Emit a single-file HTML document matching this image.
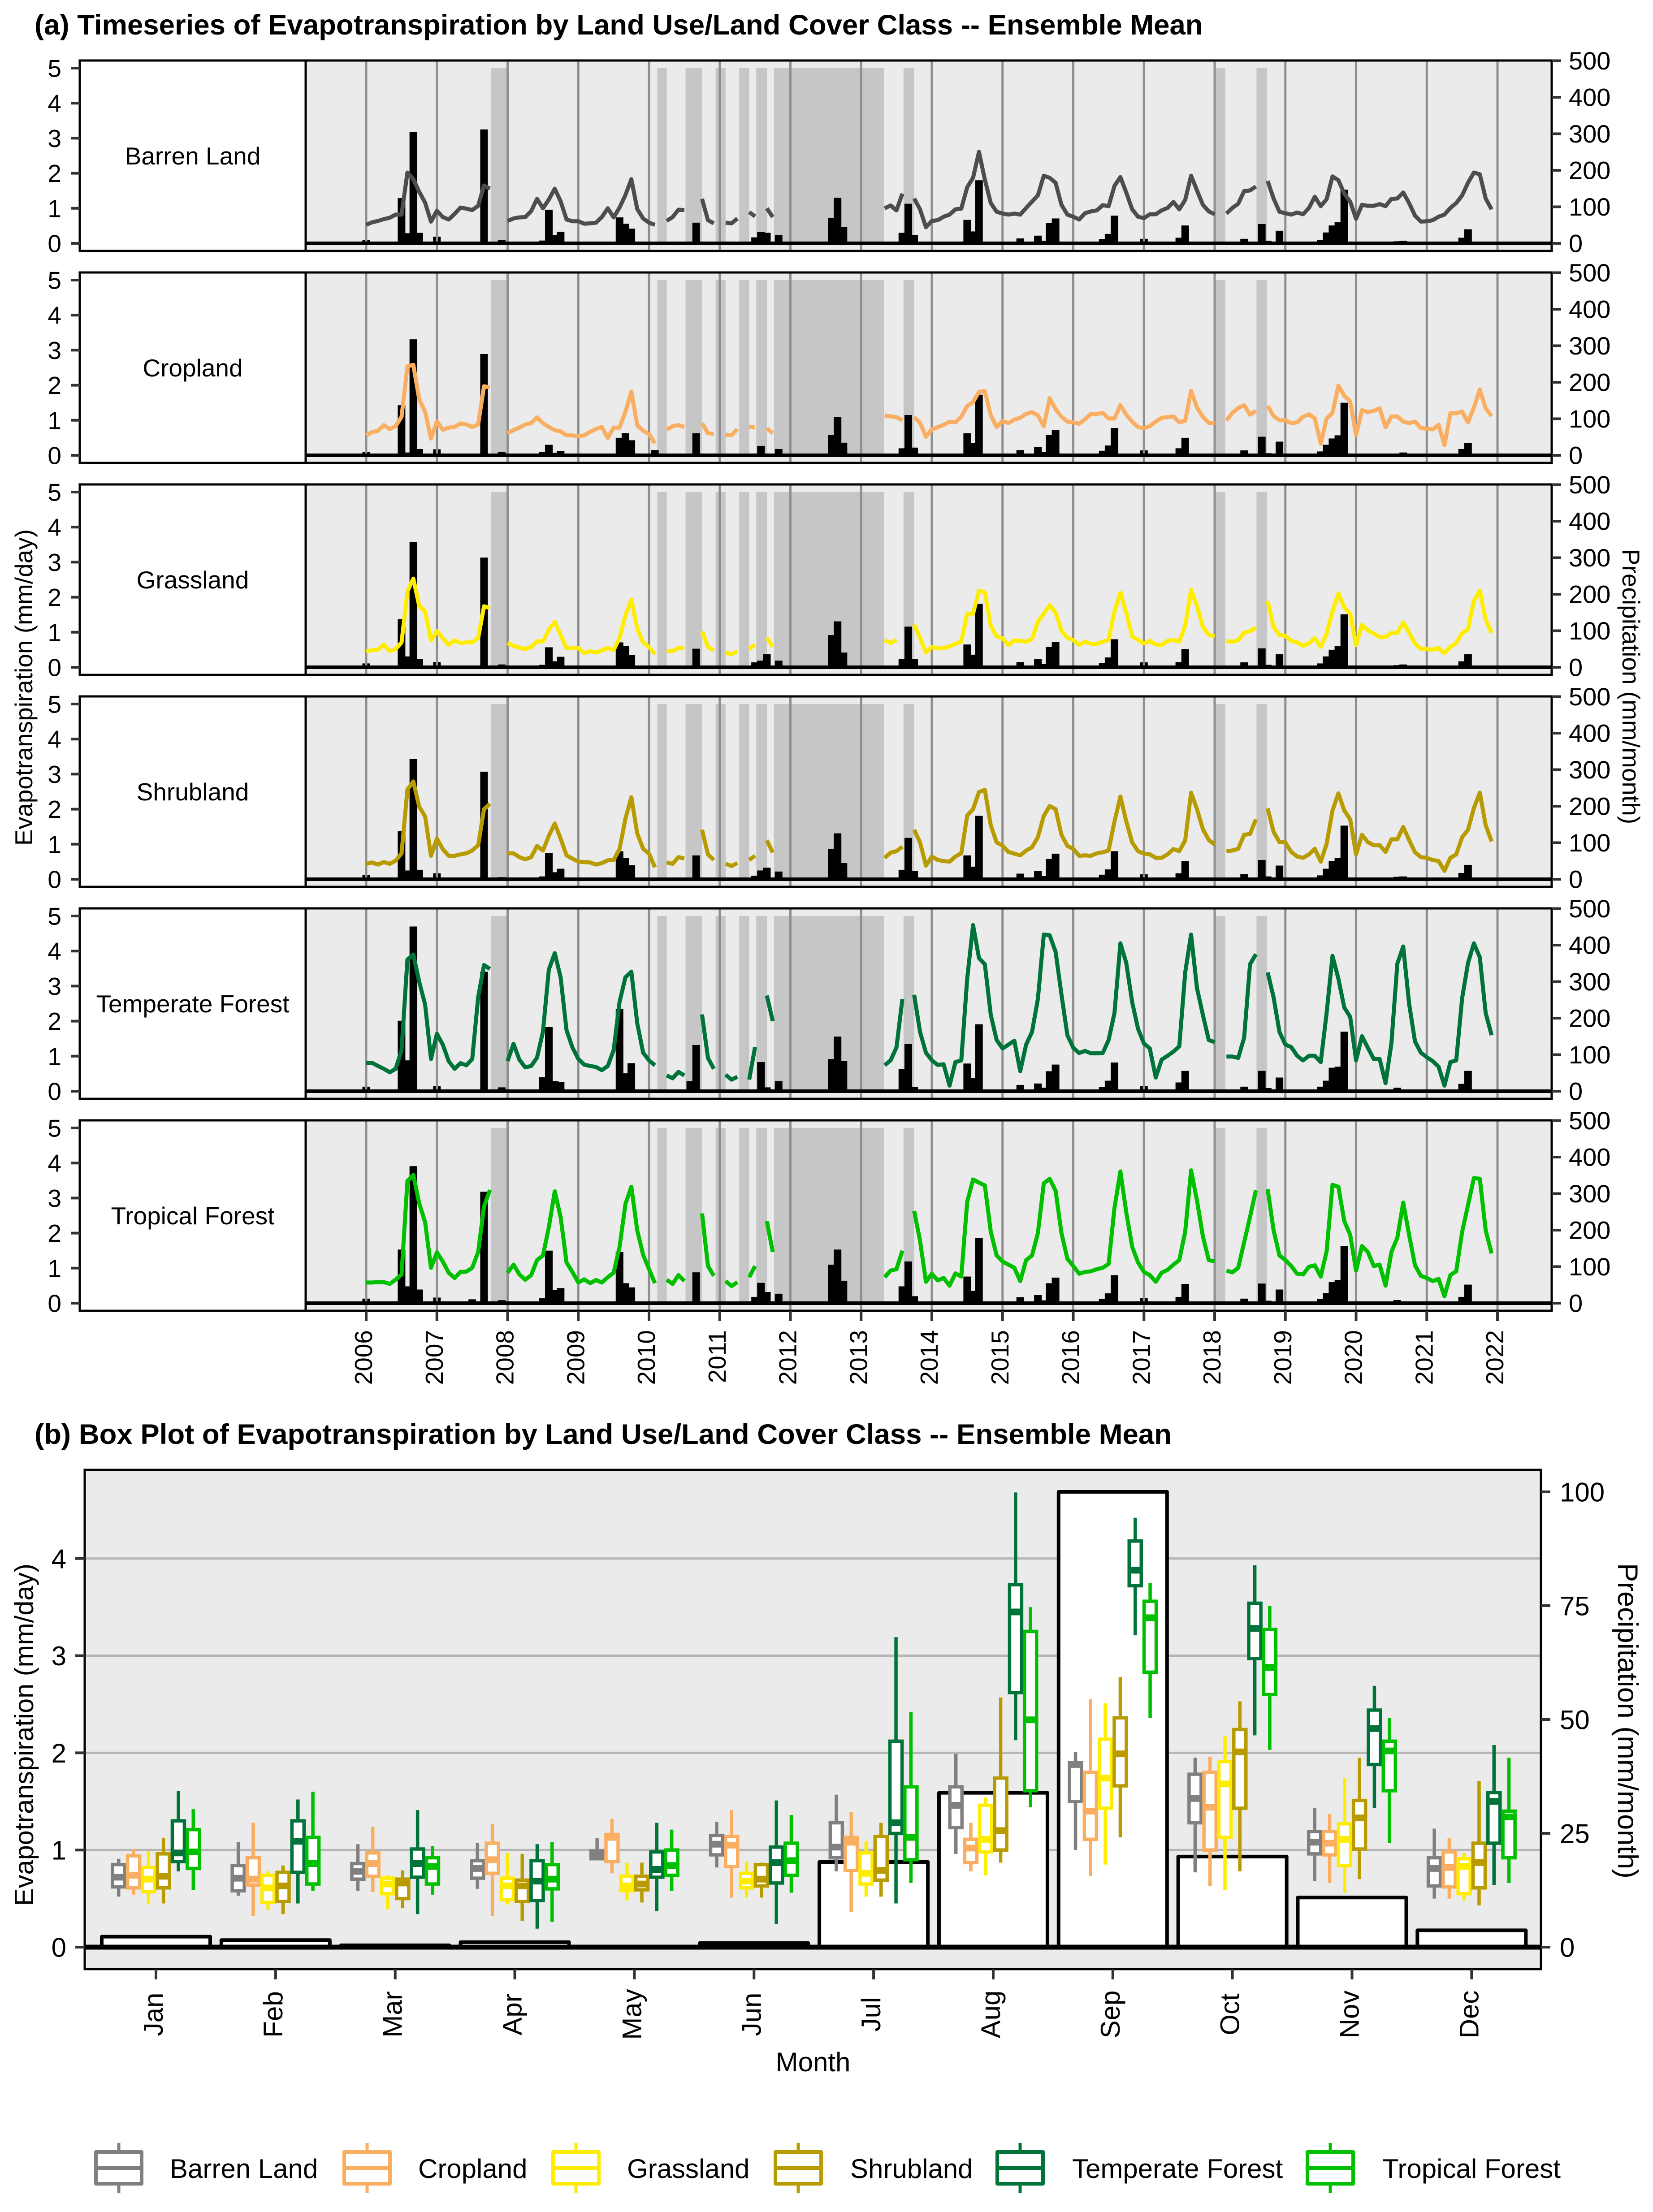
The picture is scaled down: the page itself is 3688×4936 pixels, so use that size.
<!DOCTYPE html>
<html lang="en">
<head>
<meta charset="utf-8">
<title>Evapotranspiration by Land Use/Land Cover Class</title>
<style>
html,body{margin:0;padding:0;background:#fff;}
svg{display:block;}
text{font-family:"Liberation Sans",Arial,sans-serif;fill:#000;}
</style>
</head>
<body>
<svg id="chart" xmlns="http://www.w3.org/2000/svg" width="3688" height="4936" viewBox="0 0 3688 4936">
<rect x="0" y="0" width="3688" height="4936" fill="#fff"/>
<text x="77" y="77" font-size="63.5" font-weight="bold">(a) Timeseries of Evapotranspiration by Land Use/Land Cover Class -- Ensemble Mean</text>
<text x="77" y="3222" font-size="63.5" font-weight="bold">(b) Box Plot of Evapotranspiration by Land Use/Land Cover Class -- Ensemble Mean</text>
<text transform="translate(72,1534) rotate(-90)" text-anchor="middle" font-size="55">Evapotranspiration (mm/day)</text>
<text transform="translate(3620,1532) rotate(90)" text-anchor="middle" font-size="55">Precipitation (mm/month)</text>
<text transform="translate(74,3871) rotate(-90)" text-anchor="middle" font-size="59.5">Evapotranspiration (mm/day)</text>
<text transform="translate(3610,3840) rotate(90)" text-anchor="middle" font-size="63">Precipitation (mm/month)</text>
<text x="1814" y="4622" text-anchor="middle" font-size="60">Month</text>
</svg>
<script>
const n = null;

const landCovers = ["Barren Land","Cropland","Grassland","Shrubland","Temperate Forest","Tropical Forest"];
const yearLabels = ["2006","2007","2008","2009","2010","2011","2012","2013","2014","2015","2016","2017","2018","2019","2020","2021","2022"];
const etTickLabels = [0,1,2,3,4,5];
const precipTickLabels = [0,100,200,300,400,500];
const monthLabels = ["Jan","Feb","Mar","Apr","May","Jun","Jul","Aug","Sep","Oct","Nov","Dec"];
const boxEtTicks = [0,1,2,3,4];
const boxPrecipTicks = [0,25,50,75,100];

/* Missing-data shading, in months since Jan 2006 */
const missingStart = [21.2,49.4,54.2,59.3,63.3,66.2,69.2,91.2,144.1,151.1];
const missingEnd   = [23.8,51.0,57.0,61.0,65.0,68.0,87.9,93.0,145.8,152.9];

/* Monthly ET (mm/day), Jan 2006 to Dec 2021, one row per year */
const etBarren = [
.53,.6,.64,.69,.73,.82,.82,2.02,1.83,1.47,1.16,.62,
.93,.75,.68,.84,1.02,.99,.95,1.07,1.65,1.56,n,n,
.64,.71,.74,.75,.92,1.27,1.0,1.25,1.56,1.2,.68,.63,
.63,.56,.57,.59,.75,1.0,.74,1.02,1.38,1.83,.98,.71,
.59,.53,n,.64,.75,.96,.95,n,n,1.27,.66,.57,
n,.59,.57,.71,n,.89,.77,n,1.0,.75,n,n,
n,n,n,n,n,n,n,n,n,n,n,n,
n,n,n,n,1.0,1.08,.94,1.42,n,1.28,.97,.46,
.64,.66,.76,.82,.97,.99,1.6,1.87,2.61,1.82,1.15,.9,
.85,.82,.85,.82,1.01,1.19,1.37,1.93,1.87,1.73,1.1,.82,
.76,.68,.86,.91,.94,1.09,1.06,1.64,1.89,1.45,.97,.76,
.72,.83,.83,.94,1.01,1.18,.97,1.24,1.93,1.51,1.1,.91,
.83,n,.85,1.01,1.13,1.49,1.51,1.62,n,1.78,1.28,.9,
.86,.82,.88,.83,1.01,1.33,1.06,1.26,1.91,1.8,1.42,1.19,
.7,1.1,1.07,1.07,1.12,1.06,1.27,1.28,1.45,1.15,.79,.62,
.63,.66,.76,.82,1.01,1.15,1.37,1.73,2.02,1.97,1.28,.97];
const etCropland = [
.57,.66,.7,.86,.75,.83,1.1,2.54,2.58,1.6,1.24,.48,
.97,.73,.79,.81,.91,.88,.81,.88,1.97,1.94,n,n,
.63,.72,.79,.88,.92,1.08,.92,.81,.72,.68,.57,.57,
.54,.57,.67,.75,.81,.49,.79,.79,1.24,1.82,.86,.7,
.61,.34,n,.73,.83,.86,.81,n,n,.92,.63,.61,
n,.59,.57,.75,n,.82,.79,n,.77,.63,n,n,
n,n,n,n,n,n,n,n,n,n,n,n,
n,n,n,n,1.14,1.11,1.09,1.0,n,1.09,.93,.53,
.74,.8,.87,.96,.94,1.1,1.41,1.52,1.81,1.83,1.14,.81,
.98,.92,1.02,1.07,1.18,1.23,1.14,.83,1.63,1.32,1.1,.96,
.94,.9,1.03,1.18,1.18,1.21,1.05,1.05,1.43,1.16,.96,.8,
.78,.83,.96,1.07,1.09,1.11,.94,.99,1.84,1.36,1.1,.92,
.92,n,.99,1.21,1.35,1.43,1.16,1.27,n,1.41,1.12,1.0,
1.0,.92,.94,1.1,1.17,1.05,.33,1.05,1.21,1.99,1.7,1.54,
.58,1.29,1.23,1.27,1.34,.8,1.11,1.11,.96,.92,.96,.78,
.76,.74,.87,.29,1.2,1.2,1.25,.94,1.36,1.88,1.34,1.12];
const etGrassland = [
.45,.49,.5,.65,.46,.52,.71,2.17,2.53,1.75,1.59,.77,
1.03,.83,.64,.77,.69,.71,.71,.83,1.74,1.69,n,n,
.69,.61,.56,.52,.58,.74,.74,1.07,1.3,.92,.55,.55,
.55,.4,.46,.42,.48,.55,.49,.84,1.49,1.93,1.11,.71,
.58,.37,n,.46,.46,.55,.55,n,n,1.03,.58,.48,
n,.42,.37,.46,n,.52,.65,n,.84,.58,n,n,
n,n,n,n,n,n,n,n,n,n,n,n,
n,n,n,n,.77,.69,.79,n,n,1.22,.84,.42,
.58,.54,.54,.6,.67,.73,1.53,1.53,2.19,2.13,1.18,.88,
.83,.63,.77,.75,.73,.8,1.3,1.53,1.77,1.56,1.05,.84,
.78,.64,.73,.67,.67,.73,.78,1.6,2.13,1.56,.88,.78,
.68,.75,.65,.64,.75,.78,.73,1.18,2.21,1.75,1.15,.93,
.88,n,.75,.73,.77,.99,1.03,1.13,n,1.89,1.15,.92,
.9,.75,.71,.61,.69,.83,.58,.96,1.6,2.11,1.71,1.53,
.63,1.21,1.05,.96,.86,.86,.98,.98,1.28,.99,.68,.52,
.52,.5,.55,.4,.58,.69,.98,1.08,1.9,2.19,1.36,.98];
const etShrubland = [
.44,.48,.42,.49,.44,.53,.74,2.56,2.79,2.07,1.79,.67,
1.16,.86,.67,.67,.71,.74,.82,.97,2.0,2.15,n,n,
.74,.74,.63,.57,.63,.95,.82,1.24,1.59,1.16,.68,.59,
.5,.49,.48,.42,.46,.54,.55,.86,1.73,2.34,1.31,.87,
.73,.34,n,.48,.44,.63,.59,n,n,1.41,.71,.55,
n,.44,.38,.46,n,.55,.67,n,1.11,.76,n,n,
n,n,n,n,n,n,n,n,n,n,n,n,
n,n,n,n,.61,.76,.8,.93,n,1.41,1.05,.39,
.65,.55,.52,.5,.65,.74,1.82,2.0,2.49,2.55,1.54,1.05,
.96,.78,.73,.68,.82,.91,1.2,1.81,2.09,2.0,1.27,.95,
.87,.67,.68,.67,.74,.77,.82,1.65,2.36,1.65,1.05,.8,
.73,.71,.61,.61,.71,.86,.8,1.11,2.47,2.0,1.43,1.12,
.99,n,.8,.82,.87,1.27,1.29,1.71,n,2.02,1.35,1.06,
1.05,.78,.65,.61,.71,.87,.5,1.01,1.96,2.45,1.96,1.71,
.71,1.27,1.06,.97,.97,.78,1.14,1.14,1.49,1.12,.77,.63,
.61,.55,.52,.24,.61,.71,1.2,1.41,2.03,2.47,1.54,1.08];
const etTemperateForest = [
.8,.81,.72,.64,.54,.64,1.17,3.76,3.9,3.12,2.47,.92,
1.64,1.33,.86,.64,.8,.74,.92,2.68,3.6,3.49,n,n,
.86,1.35,.9,.68,.72,.96,1.7,3.47,3.94,3.25,1.74,1.25,
.92,.76,.72,.69,.6,.72,1.17,2.55,3.25,3.41,1.94,1.1,
.88,.74,n,.45,.37,.55,.45,n,n,2.19,.95,.64,
n,.47,.33,.41,n,.33,1.26,n,2.73,2.0,n,n,
n,n,n,n,n,n,n,n,n,n,n,n,
n,n,n,n,.74,.88,1.25,2.63,n,2.75,1.69,1.1,
.88,.75,.77,.16,.83,.88,3.21,4.74,3.8,3.62,2.18,1.46,
1.22,1.33,1.44,.57,1.33,1.69,2.63,4.47,4.45,3.98,2.76,1.6,
1.24,1.09,1.15,1.08,1.08,1.09,1.46,2.23,4.22,3.66,2.54,1.78,
1.36,1.22,.39,.9,1.01,1.13,1.28,3.39,4.47,2.94,2.18,1.46,
1.4,n,.99,.99,.95,1.53,3.62,3.91,n,3.39,2.68,1.69,
1.33,1.26,1.01,.88,1.01,1.01,.83,2.23,3.86,3.21,2.39,2.12,
.88,1.57,1.24,.92,.92,.23,1.37,3.64,4.13,2.5,1.42,1.1,
.97,.86,.7,.16,.83,.88,2.66,3.66,4.22,3.82,2.23,1.6];
const etTropicalForest = [
.59,.59,.6,.6,.55,.67,.82,3.49,3.66,2.85,2.31,1.01,
1.45,1.19,.87,.72,.89,.9,1.01,1.46,2.76,3.23,n,n,
.87,1.1,.82,.67,.8,1.23,1.36,2.17,3.19,2.46,1.16,.89,
.59,.68,.57,.66,.59,.74,.87,1.61,2.83,3.32,2.08,1.38,
.97,.57,n,.67,.55,.8,.63,n,n,2.56,1.06,.78,
n,.63,.49,.6,n,.74,1.06,n,2.34,1.46,n,n,
n,n,n,n,n,n,n,n,n,n,n,n,
n,n,n,n,.74,.93,.97,1.5,n,2.63,1.78,.61,
.84,.65,.72,.5,.85,.76,2.89,3.53,3.44,3.36,2.04,1.36,
1.19,1.1,1.01,.63,1.23,1.36,2.0,3.42,3.55,3.21,2.0,1.27,
1.06,.84,.89,.91,.97,1.01,1.12,2.72,3.76,2.59,1.61,1.16,
.89,.8,.61,.87,.95,1.1,1.23,2.04,3.79,2.93,1.91,1.23,
1.19,n,.93,.88,1.01,1.74,2.46,3.22,n,3.25,2.08,1.36,
1.23,1.06,.84,.82,1.04,1.08,.76,1.48,3.38,3.32,2.34,1.95,
.93,1.63,1.46,1.06,1.1,.5,1.46,1.87,2.87,1.95,1.08,.78,
.72,.63,.69,.2,.8,.91,2.04,2.8,3.57,3.55,2.08,1.42];

/* Precipitation bars: months since Jan 2006 with rain, and bar height per class on the ET axis */
const rainMonths = [0,6,7,8,9,12,18,20,23,30,31,32,33,43,44,45,49,55,56,66,67,68,70,79,80,81,91,92,93,102,103,104,111,114,115,116,117,125,126,127,132,138,139,149,152,153,155,162,163,164,165,166,175,176,186,187];
const rainBarren = [.1,1.29,.29,3.18,.3,.19,0,3.25,.1,.08,.96,.24,.33,.74,.56,.42,0,0,.59,.17,.32,.3,.23,.73,1.3,.46,.3,1.13,.24,.67,.34,1.8,.14,.22,.07,.58,.71,.12,.27,.79,.13,.16,.51,.13,.55,.07,.36,.1,.31,.51,.6,1.53,.06,.07,.16,.4];
const rainCropland = [.1,1.43,.08,3.31,.18,.17,0,2.89,.09,.09,.3,.07,.12,.5,.63,.43,.15,0,.63,0,.27,0,.18,.58,1.09,.36,.2,1.15,.22,.63,.35,1.73,.15,.24,.09,.58,.72,.13,.28,.78,.14,.2,.5,.14,.53,.06,.39,.11,.3,.48,.57,1.5,.05,.08,.18,.35];
const rainGrassland = [.11,1.37,.31,3.58,.24,.15,0,3.13,.08,.07,.57,.17,.3,.71,.61,.35,0,0,.53,.14,.19,.37,.19,.92,1.31,.42,.24,1.16,.23,.65,.36,1.81,.15,.23,.09,.58,.72,.12,.28,.8,.14,.15,.52,.14,.54,.07,.37,.11,.31,.5,.6,1.51,.06,.08,.17,.37];
const rainShrubland = [.12,1.37,.25,3.43,.27,.17,0,3.07,.06,.08,.75,.2,.3,.8,.61,.4,0,0,.68,.1,.25,.33,.22,.87,1.31,.46,.27,1.18,.24,.68,.36,1.81,.16,.23,.09,.58,.73,.13,.28,.8,.14,.17,.52,.15,.55,.08,.39,.11,.3,.52,.61,1.53,.07,.08,.18,.41];
const rainTemperateForest = [.13,2.01,.88,4.7,0,.14,0,3.41,.11,.4,1.83,.29,.26,2.35,.51,.8,0,.29,1.32,0,.83,.11,.29,.92,1.56,.86,.63,1.35,.12,.79,.37,1.91,.18,.22,.1,.57,.76,.12,.3,.82,.14,.25,.58,.13,.58,.09,.39,.13,.3,.67,.7,1.7,.1,.05,.21,.58];
const rainTropicalForest = [.13,1.53,.48,3.91,.39,.16,.11,3.18,.085,.14,1.5,.38,.43,1.46,.57,.45,0,0,.88,.18,.58,.32,.27,1.1,1.53,.64,.48,1.19,.2,.76,.35,1.86,.17,.23,.08,.57,.73,.12,.28,.8,.14,.18,.55,.13,.56,.07,.39,.12,.29,.6,.66,1.63,.09,.05,.18,.53];

/* Mean monthly precipitation (mm/month) */
const meanPrecip = [2.3,1.55,.4,1.1,.1,.9,18.7,33.9,100,19.9,10.9,3.7];

/* Monthly box statistics: [low whisker, q1, median, q3, high whisker] */
const boxBarren = [[.52,.62,.72,.85,.91],[.53,.58,.71,.84,1.08],[.58,.70,.78,.86,1.06],[.60,.71,.81,.89,1.07],[.90,.91,.95,.99,1.12],[.82,.95,1.06,1.15,1.29],[.78,.92,1.03,1.28,1.57],[.96,1.23,1.46,1.65,1.99],[1.0,1.5,1.88,1.9,2.01],[.77,1.28,1.53,1.78,1.95],[.68,.96,1.08,1.19,1.43],[.50,.63,.81,.92,1.22]];
const boxCropland = [[.54,.61,.74,.94,1.01],[.32,.64,.70,.92,1.28],[.57,.73,.86,.97,1.24],[.32,.76,.90,1.07,1.27],[.76,.88,1.13,1.16,1.32],[.51,.83,1.05,1.14,1.41],[.36,.79,1.08,1.13,1.39],[.78,.87,1.02,1.11,1.28],[.73,1.11,1.4,1.8,2.55],[.63,1.0,1.44,1.8,1.96],[.66,.95,1.07,1.19,1.37],[.50,.62,.82,.98,1.12]];
const boxGrassland = [[.44,.57,.70,.82,.99],[.38,.46,.61,.74,.78],[.39,.55,.65,.71,.74],[.44,.49,.63,.71,.97],[.48,.58,.63,.73,.87],[.51,.61,.68,.76,.88],[.52,.65,.76,.97,1.09],[.74,.98,1.11,1.46,1.54],[.85,1.43,1.74,2.14,2.51],[.59,1.13,1.68,1.91,2.17],[.56,.84,1.11,1.27,1.74],[.48,.55,.83,.91,.97]];
const boxShrubland = [[.45,.61,.73,.96,1.12],[.34,.47,.63,.77,.84],[.40,.50,.66,.70,.79],[.27,.47,.63,.69,.96],[.46,.59,.65,.73,.87],[.51,.63,.70,.85,.87],[.52,.69,.79,1.14,1.28],[.87,1.0,1.2,1.74,2.57],[1.13,1.66,1.99,2.36,2.78],[.78,1.43,2.01,2.24,2.53],[.70,1.01,1.33,1.51,1.95],[.43,.61,.87,1.07,1.71]];
const boxTemperateForest = [[.78,.88,.97,1.30,1.61],[.45,.77,1.09,1.30,1.52],[.34,.72,.86,1.01,1.41],[.19,.48,.68,.89,1.06],[.37,.72,.80,.98,1.28],[.24,.66,.87,1.03,1.51],[.45,1.17,1.28,2.12,3.19],[2.13,2.62,3.45,3.73,4.68],[3.21,3.72,3.88,4.18,4.42],[2.18,2.97,3.28,3.54,3.93],[1.43,1.88,2.25,2.44,2.69],[.64,1.07,1.5,1.59,2.08]];
const boxTropicalForest = [[.59,.81,.98,1.21,1.42],[.58,.65,.86,1.13,1.60],[.54,.65,.83,.92,1.04],[.26,.60,.70,.85,1.08],[.58,.74,.84,1.0,1.21],[.56,.74,.89,1.07,1.36],[.66,.90,1.13,1.65,2.42],[1.44,1.61,2.34,3.25,3.5],[2.36,2.83,3.39,3.56,3.75],[2.03,2.6,2.88,3.27,3.51],[1.07,1.61,2.02,2.12,2.36],[.66,.92,1.34,1.4,1.95]];

const SVGNS = "http://www.w3.org/2000/svg";
const svg = document.getElementById("chart");
function mk(tag, attrs, parent) {
  const e = document.createElementNS(SVGNS, tag);
  for (const k in attrs) e.setAttribute(k, attrs[k]);
  (parent || svg).appendChild(e);
  return e;
}

const etSeries = [etBarren, etCropland, etGrassland, etShrubland, etTemperateForest, etTropicalForest];
const rainSeries = [rainBarren, rainCropland, rainGrassland, rainShrubland, rainTemperateForest, rainTropicalForest];
const boxSeries = [boxBarren, boxCropland, boxGrassland, boxShrubland, boxTemperateForest, boxTropicalForest];
const lineColors = ["#4D4D4D","#FAAE61","#FFED00","#B89B00","#00733A","#00C000"];
const boxColors = ["#808080","#FAAE61","#FFED00","#B89B00","#00733A","#00C000"];

/* ---------- Panel (a) ---------- */
const panelTops = [135,608,1081,1554,2027,2500];
const PANEL_H = 425, STRIP_L = 178, PLOT_L = 682, PLOT_R = 3462;
const xMonth = m => 817 + 13.146 * m;
const xYear = i => xMonth(i * 12);

panelTops.forEach((top, p) => {
  const zero = top + 408;
  const yEt = v => zero - 78.2 * v;
  const yPrecip = v => zero - 0.815 * v;
  const slug = landCovers[p].toLowerCase().replace(/ /g, "-");

  const strip = mk("rect", {x: STRIP_L, y: top, width: PLOT_L - STRIP_L, height: PANEL_H, fill: "#fff"});
  
  

  const stripLabel = mk("text", {x: (STRIP_L + PLOT_L) / 2, y: top + 232, "text-anchor": "middle", "font-size": 55});
  
  
  stripLabel.textContent = landCovers[p];

  const bg = mk("rect", {x: PLOT_L, y: top, width: PLOT_R - PLOT_L, height: PANEL_H, fill: "#EBEBEB"});
  
  

  missingStart.forEach((s, i) => {
    const r = mk("rect", {x: xMonth(s), y: yEt(5), width: xMonth(missingEnd[i]) - xMonth(s), height: yEt(0) - yEt(5), fill: "#000", "fill-opacity": 0.157});
    
    
  });

  rainMonths.forEach((m, i) => {
    const v = rainSeries[p][i];
    if (!v) return;
    const b = mk("rect", {x: xMonth(m) - 8.5, y: yEt(v), width: 17, height: yEt(0) - yEt(v), fill: "#000"});
    
    
  });

  yearLabels.forEach((y, i) => {
    const g = mk("line", {x1: xYear(i), x2: xYear(i), y1: top, y2: top + PANEL_H, stroke: "#8f8f8f", "stroke-width": 5});
    
    
  });

  const zl = mk("line", {x1: PLOT_L, x2: PLOT_R, y1: zero, y2: zero, stroke: "#000", "stroke-width": 8});
  
  

  let d = "", pen = false;
  etSeries[p].forEach((v, m) => {
    if (v === null) { pen = false; return; }
    d += (pen ? "L" : "M") + xMonth(m).toFixed(1) + " " + yEt(v).toFixed(1);
    pen = true;
  });
  const ln = mk("path", {d: d, fill: "none", stroke: lineColors[p], "stroke-width": 9, "stroke-linejoin": "round"});
  
  

  const frame = mk("rect", {x: PLOT_L, y: top, width: PLOT_R - PLOT_L, height: PANEL_H, fill: "none", stroke: "#000", "stroke-width": 5});
  
  
  const sf = mk("rect", {x: STRIP_L, y: top, width: PLOT_L - STRIP_L, height: PANEL_H, fill: "none", stroke: "#000", "stroke-width": 5});
  
  

  etTickLabels.forEach(v => {
    const t = mk("line", {x1: 158, x2: STRIP_L, y1: yEt(v), y2: yEt(v), stroke: "#333", "stroke-width": 6});
    
    
    const l = mk("text", {x: 137, y: yEt(v) + 19.5, "text-anchor": "end", "font-size": 55});
    
    
    l.textContent = v;
  });
  precipTickLabels.forEach(v => {
    const t = mk("line", {x1: PLOT_R, x2: PLOT_R + 21, y1: yPrecip(v), y2: yPrecip(v), stroke: "#333", "stroke-width": 6});
    
    
    const l = mk("text", {x: 3500, y: yPrecip(v) + 19.5, "font-size": 56});
    
    
    l.textContent = v;
  });
});

yearLabels.forEach((y, i) => {
  const t = mk("line", {x1: xYear(i), x2: xYear(i), y1: 2925, y2: 2948, stroke: "#333", "stroke-width": 6});
  
  
  const l = mk("text", {transform: "translate(" + (xYear(i) + 13) + ",2968) rotate(-90)", "text-anchor": "end", "font-size": 55});
  
  
  l.textContent = y;
});

/* ---------- Panel (b) ---------- */
const B_L = 189, B_R = 3438, B_T = 3280, B_B = 4394, B_ZERO = 4345;
const yBoxEt = v => B_ZERO - 216.8 * v;
const yBoxPrecip = v => B_ZERO - 10.16 * v;
const xGroup = m => 348 + 266.85 * m;

const bbg = mk("rect", {x: B_L, y: B_T, width: B_R - B_L, height: B_B - B_T, fill: "#EBEBEB"});



boxEtTicks.slice(1).forEach(v => {
  const g = mk("line", {x1: B_L, x2: B_R, y1: yBoxEt(v), y2: yBoxEt(v), stroke: "#B5B5B5", "stroke-width": 5});
  
  
});

meanPrecip.forEach((v, m) => {
  const b = mk("rect", {x: xGroup(m) - 121, y: yBoxPrecip(v), width: 242, height: B_ZERO - yBoxPrecip(v), fill: "#fff", stroke: "#000", "stroke-width": 8, "stroke-linejoin": "round"});
  
  
});

const bz = mk("line", {x1: B_L, x2: B_R, y1: B_ZERO, y2: B_ZERO, stroke: "#000", "stroke-width": 11});



boxSeries.forEach((series, c) => {
  const slug = landCovers[c].toLowerCase().replace(/ /g, "-");
  series.forEach((st, m) => {
    const cx = xGroup(m) + (c - 2.5) * 33.3;
    const w = mk("line", {x1: cx, x2: cx, y1: yBoxEt(st[0]), y2: yBoxEt(st[4]), stroke: boxColors[c], "stroke-width": 7.5});
    
    
    const r = mk("rect", {x: cx - 13.5, y: yBoxEt(st[3]), width: 27, height: yBoxEt(st[1]) - yBoxEt(st[3]), fill: "#fff", stroke: boxColors[c], "stroke-width": 7.5});
    
    
    const md = mk("line", {x1: cx - 17, x2: cx + 17, y1: yBoxEt(st[2]), y2: yBoxEt(st[2]), stroke: boxColors[c], "stroke-width": 15});
    
    
  });
});

const bf = mk("rect", {x: B_L, y: B_T, width: B_R - B_L, height: B_B - B_T, fill: "none", stroke: "#000", "stroke-width": 5});



boxEtTicks.forEach(v => {
  const t = mk("line", {x1: 168, x2: B_L, y1: yBoxEt(v), y2: yBoxEt(v), stroke: "#333", "stroke-width": 6});
  
  
  const l = mk("text", {x: 148, y: yBoxEt(v) + 21.5, "text-anchor": "end", "font-size": 60});
  
  
  l.textContent = v;
});
boxPrecipTicks.forEach(v => {
  const t = mk("line", {x1: B_R, x2: B_R + 21, y1: yBoxPrecip(v), y2: yBoxPrecip(v), stroke: "#333", "stroke-width": 6});
  
  
  const l = mk("text", {x: 3480, y: yBoxPrecip(v) + 21.5, "font-size": 60});
  
  
  l.textContent = v;
});
monthLabels.forEach((name, m) => {
  const t = mk("line", {x1: xGroup(m), x2: xGroup(m), y1: B_B, y2: B_B + 23, stroke: "#333", "stroke-width": 6});
  
  
  const l = mk("text", {transform: "translate(" + (xGroup(m) + 15) + ",4495) rotate(-90)", "text-anchor": "middle", "font-size": 60});
  
  
  l.textContent = name;
});

/* ---------- Legend ---------- */
const legendKeyX = [265,819,1285,1781,2276,2968];
const legendLabelX = [379,933,1399,1897,2392,3084];
landCovers.forEach((name, c) => {
  const cx = legendKeyX[c];
  const slug = name.toLowerCase().replace(/ /g, "-");
  const w = mk("line", {x1: cx, x2: cx, y1: 4782, y2: 4894, stroke: boxColors[c], "stroke-width": 7});
  
  
  const r = mk("rect", {x: cx - 51, y: 4802, width: 102, height: 71, fill: "#fff", stroke: boxColors[c], "stroke-width": 8, "stroke-linejoin": "round"});
  
  
  const md = mk("line", {x1: cx - 55, x2: cx + 55, y1: 4837.5, y2: 4837.5, stroke: boxColors[c], "stroke-width": 9});
  
  
  const l = mk("text", {x: legendLabelX[c], y: 4860, "font-size": 60});
  
  
  l.textContent = name;
});
</script>
</body>
</html>
